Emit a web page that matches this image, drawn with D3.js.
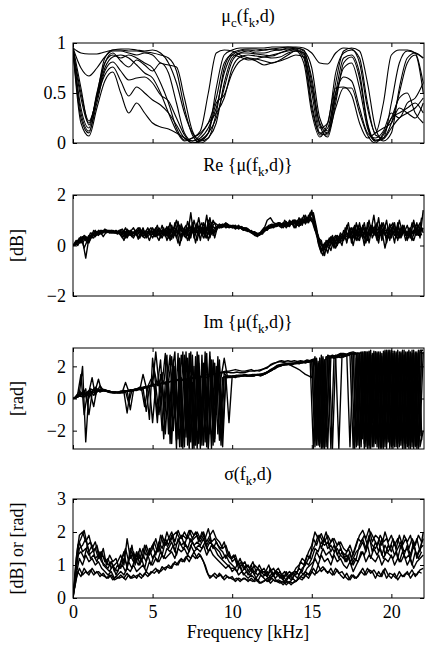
<!DOCTYPE html>
<html>
<head>
<meta charset="utf-8">
<script src="https://cdn.jsdelivr.net/npm/d3@7"></script>
<style>
  body { margin: 0; background: #fff; }
  text { font-family: "Liberation Serif", "Times New Roman", serif; fill: #000; }
</style>
</head>
<body>
<svg id="chart" width="426" height="650"></svg>
<script>
// frequency grids (kHz): coherence curves are read every 0.5 kHz, the noisy ones every 0.2 kHz
// (second noisy grid is offset by 0.1 kHz)
const freqCoarse = d3.range(45).map(i => i * 0.5);
const freqFine = d3.range(111).map(i => i * 0.2);
const freqShift = d3.range(110).map(i => 0.1 + i * 0.2);
const xTicks = [0, 5, 10, 15, 20];

// panel 1: coherence mu_c(f_k, d), one array per microphone pair
const muA = [.95,.90,.89,.89,.91,.93,.94,.94,.93,.92,.93,.90,.80,.60,.30,.10,.03,.10,.55,.88,.93,.95,.95,.95,.95,.96,.96,.96,.96,.95,.90,.80,.79,.90,.95,.94,.80,.35,.10,.40,.88,.93,.93,.90,.60];
const muB = [.95,.75,.67,.75,.86,.92,.92,.90,.88,.90,.88,.80,.78,.76,.45,.12,.02,.05,.30,.75,.90,.93,.94,.94,.93,.94,.95,.96,.95,.93,.60,.15,.20,.70,.90,.93,.85,.40,.08,.05,.40,.80,.92,.90,.85];
const muC = [.94,.50,.22,.45,.80,.90,.82,.76,.83,.78,.72,.80,.70,.40,.10,.02,.05,.15,.35,.70,.88,.92,.93,.92,.93,.94,.93,.95,.94,.90,.50,.10,.08,.50,.85,.88,.70,.20,.03,.05,.20,.50,.80,.88,.50];
const muD = [.93,.30,.12,.40,.72,.81,.72,.63,.65,.66,.60,.48,.42,.25,.08,.00,.03,.10,.25,.55,.82,.90,.92,.90,.90,.92,.93,.94,.93,.88,.40,.08,.10,.45,.75,.80,.55,.15,.02,.08,.25,.30,.35,.40,.30];
const muE = [.93,.25,.10,.45,.68,.76,.62,.47,.56,.50,.43,.38,.30,.18,.05,.02,.08,.20,.30,.45,.75,.86,.88,.87,.86,.88,.90,.92,.93,.85,.35,.10,.15,.50,.66,.62,.35,.10,.05,.12,.30,.25,.40,.45,.60];
const muF = [.92,.20,.07,.35,.62,.71,.50,.30,.40,.30,.20,.16,.14,.10,.05,.00,.02,.10,.40,.48,.70,.82,.85,.84,.82,.80,.83,.88,.92,.80,.30,.06,.20,.55,.56,.48,.20,.05,.10,.15,.20,.35,.30,.25,.40];
const muG = [.96,.55,.18,.48,.85,.93,.93,.92,.92,.91,.90,.88,.85,.72,.35,.08,.00,.05,.20,.60,.85,.90,.90,.89,.88,.87,.90,.93,.95,.92,.75,.25,.12,.60,.92,.95,.92,.60,.15,.02,.10,.55,.85,.90,.85];
const muH = [.94,.35,.15,.50,.80,.88,.85,.88,.85,.80,.75,.60,.40,.15,.03,.05,.12,.50,.90,.93,.92,.88,.85,.82,.78,.80,.82,.85,.88,.86,.55,.20,.10,.35,.55,.55,.30,.08,.00,.10,.25,.45,.50,.30,.20];
const muI = [.93,.45,.20,.46,.75,.86,.88,.85,.78,.70,.65,.50,.30,.12,.02,.05,.10,.20,.45,.80,.88,.86,.83,.84,.86,.85,.86,.90,.92,.90,.65,.18,.06,.40,.80,.86,.65,.18,.02,.04,.15,.25,.30,.35,.45];

// panel 2: Re{mu(f_k, d)} in dB (re1-4 on freqFine, re5-8 on freqShift)
const re1 = [0,.15,.25,.1,.3, .2,.5,.35,.6,.45, .65,.55,.6,.5,.55, .4,.6,.3,.55,.7, .45,.3,.6,.5,.2, .55,.35,.7,.45,.6,
  .3,.8,.4,.95,.2, .7,.4,1.3,.3,.8, .2,.9,.5,1.1,.4, .7,.85,.75,.9,.8, .7,.8,.65,.75,.6, .55,.6,.4,.35,.55,
  .7,.6,.8,.7,.85, .75,.9,.7,1.0,.85, .7,1.1,.8,1.2,.9, 1.3,.9,.2,-.2,.1, -.3,.2,0,.3,.15, .6,.1,.7,.3,.9,
  .2,.8,.4,1.0,.3, .6,.1,.9,.4,.7, .3,.9,.2,.7,.5, .8,.3,1.0,.4,.7, .6];
const re2 = [0,.05,.3,.2,-.5, .3,.35,.55,.5,.6, .55,.6,.5,.55,.45, .55,.35,.65,.4,.5, .6,.4,.7,.3,.55, .3,.6,.4,.8,.35,
  .6,.25,.9,.45,.7, .35,.95,.5,.7,.2, .8,.45,1.2,.3,.75, .65,.8,.85,.7,.75, .8,.65,.75,.7,.7, .65,.5,.55,.45,.5,
  .55,.75,.7,.8,.75, .85,.7,.95,.75,1.0, 1.0,.75,1.1,.85,1.2, 1.0,.6,.4,0,-.1, .1,-.2,.3,0,.4, .2,.8,.35,.6,.2,
  .9,.3,.7,.1,.8, .4,1.1,.2,.8,.3, .7,.1,.9,.4,.8, .2,.7,.4,.9,.3, 1.4];
const re3 = [0,.2,.1,.35,.2, .4,.3,.6,.4,.55, .6,.55,.6,.55,.5, .5,.2,.6,.45,.3, .55,.7,.35,.6,.45, .7,.45,.2,.6,.5,
  .75,.35,.6,.1,.85, .45,.7,.3,1.0,.5, .6,.3,.7,.5,1.0, .75,.7,.8,.85,.7, .75,.7,.8,.65,.65, .6,.55,.5,.4,.45,
  .65,1.0,1.1,.9,.85, .9,.8,.85,.9,.85, .85,.95,1.0,.95,1.1, 1.4,.7,.3,.2,-.4, .2,.3,-.1,.4,.25, .4,.2,.6,0,.6,
  .4,.6,.1,.7,.5, .8,.3,.6,-.1,.5, .6,.4,.8,.3,.6, .4,.5,.2,.6,.9, .5];
const re4 = [0,.1,.2,.25,.35, .1,.45,.4,.5,.5, .6,.6,.55,.5,.5, .6,.5,.4,.6,.5, .4,.55,.5,.45,.6, .5,.7,.55,.3,.65,
  .45,.6,.7,.5,.4, .6,.2,.65,.55,.9, .5,.7,.3,.8,.6, .75,.7,.75,.8,.8, .7,.75,.7,.7,.65, .6,.5,.45,.45,.5,
  .6,.65,.7,.75,.8, .8,.85,.8,.8,.95, .95,.85,.9,1.05,.95, 1.1,.8,.1,-.3,.05, 0,.35,.2,.1,.5, .3,.5,.3,.7,.4,
  .6,.3,.6,.4,.6, .5,.7,.4,.6,.6, .4,.6,.5,.35,.6, .5,.4,.6,.5,.5, .7];
const re5 = [.05,.2,.1,.3,.25, .4,.3,.55,.45,.6, .5,.6,.55,.5,.6, .65,.3,.5,.4,.6, .25,.55,.45,.7,.4, .5,.8,.3,.55,.4,
  .9,.3,.7,0,.6, .8,.2,.9,.5,1.1, .4,.85,.2,.7,.9, .8,.75,.85,.8,.75, .7,.75,.7,.6,.65, .55,.5,.4,.4,.5,
  .6,.7,.8,.75,.8, .7,1.0,.8,.95,.7, 1.0,.8,1.2,.9,1.3, 1.2,.5,-.1,-.4,.2, .1,.4,-.1,.2,.3, .5,.9,.1,.7,.35,
  .7,0,.9,.5,1.2, .3,.8,.5,1.0,.2, .8,.4,1.0,.5,.6, .3,.9,.6,.4,1.1];
const re6 = [0,.1,.35,-.1,.2, .5,.4,.45,.6,.5, .6,.5,.5,.6,.5, .3,.55,.6,.35,.45, .6,.4,.3,.55,.7, .35,.65,.45,.7,.2,
  .5,.7,.3,.8,.45, .6,.35,.75,.1,.7, .9,.3,1.0,.6,.5, .7,.8,.8,.75,.8, .75,.7,.75,.7,.6, .6,.45,.5,.45,.55,
  .7,.75,.7,.85,.9, .85,.75,.9,.85,.9, .8,1.05,.9,1.1,1.0, .9,.4,.2,-.1,-.2, .3,0,.35,.1,.2, .3,.45,.7,.25,.8,
  .5,.7,.35,.8,.4, .9,.4,.7,.3,.85, .5,.7,.3,.8,.4, .6,.2,.8,.5,.7];
const re7 = [.1,0,.25,.35,.1, .25,.6,.4,.55,.35, .55,.5,.6,.55,.55, .45,.7,.4,.5,.55, .7,.45,.55,.35,.5, .6,.4,.6,.5,.75,
  .2,.6,1.0,.4,.5, .3,.85,.5,.6,.4, .7,.6,.45,.9,.3, .8,.7,.75,.85,.75, .8,.7,.7,.7,.7, .6,.55,.45,.5,.45,
  .65,.8,.85,.8,.85, .8,.9,.75,.85,1.0, .9,.95,1.0,1.0,1.2, 1.3,.7,0,-.2,0, -.1,.25,.4,.3,0, .7,.3,.5,.8,.2,
  .4,.9,.2,.6,.7, .2,.6,.9,.1,.7, .9,.3,.6,.7,.2, .7,.5,.5,.8,.4];
const re8 = [0,.15,.2,.4,.3, .35,.5,.5,.5,.55, .6,.55,.5,.5,.55, .5,.45,.55,.5,.45, .5,.6,.4,.5,.55, .45,.55,.6,.4,.5,
  .6,.45,.5,.65,.55, .5,.6,.55,.5,.65, .55,.5,.75,.45,.6, .75,.8,.75,.8,.75, .75,.75,.7,.65,.65, .55,.5,.45,.45,.55,
  .6,.7,.75,.75,.8, .8,.85,.85,.9,.9, .9,.95,.95,1.0,1.05, 1.0,.6,.1,0,.1, .15,.2,.2,.25,.35, .4,.45,.5,.5,.45,
  .55,.5,.5,.55,.5, .5,.55,.5,.5,.55, .5,.55,.5,.55,.5, .55,.5,.6,.55,.6];

// panel 3: Im{mu(f_k, d)} in rad (im1-4 on freqFine, im5-8 on freqShift)
const im1 = [0,.1,.3,2.0,-2.7, .4,1.3,.2,.6,.5, .5,.45,.4,.4,.35, .4,.35,.5,-.7,.5, .6,.7,.65,-.8,.75, .8,2.9,.85,1.6,-2.2,
  1.0,2.6,-1.2,2.8,-3.0, 2.7,-2.9,1.4,-3.1,2.9, -2.5,2.2,-3.0,2.6,-1.8, 2.0,-2.6,1.3,1.4,-1.5, 1.4,1.35,1.4,1.45,1.45, 1.4,1.45,1.5,1.45,1.4,
  1.5,1.6,1.75,1.85,2.0, 2.05,2.1,2.15,2.1,2.1, 2.2,2.15,2.25,2.2,2.3, 2.4,-3.0,2.2,-2.8,2.3, -3.1,2.6,2.5,2.6,2.55, 2.6,2.65,2.7,-3.1,2.5,
  -2.9,2.8,-3.0,2.9,-1.5, 2.9,-3.0,2.6,-2.2,3.0, -3.0,2.7,-2.8,2.9,-3.1, 2.8,-2.6,3.0,-3.1,2.9, 2.8];
const im2 = [0,.05,.5,.2,.6, -1.0,.3,.5,1.2,.45, .5,.4,.35,.35,.4, .45,.5,.45,.55,.5, .55,.65,.7,.75,-1.3, 2.5,.8,-1.0,.9,2.8,
  -2.2,1.5,2.9,-2.5,1.3, -3.0,2.5,-2.7,2.0,-3.1, 1.3,-2.9,2.8,-2.2,2.4, -1.0,2.4,-3.0,1.3,1.3, 1.35,1.3,1.45,1.4,1.5, 1.45,1.4,1.4,1.5,1.45,
  1.55,1.65,1.8,1.9,2.05, 2.1,2.15,2.1,2.2,2.15, 2.2,2.25,2.2,2.3,2.25, 2.3,2.5,-2.5,2.4,-3.1, 2.5,2.6,2.55,2.6,2.7, 2.6,2.7,-3.0,2.8,-2.7,
  2.7,-1.8,2.9,-3.1,2.8, -2.8,2.9,-3.0,3.0,-2.5, 2.8,-1.9,3.0,-2.9,2.7, -3.0,2.9,-2.2,2.8,-3.0, -2.0];
const im3 = [0,.1,.2,.4,.3, .5,.4,.7,.45,.55, .5,.45,.4,.35,.4, .35,.4,.45,.5,.55, .5,.6,.65,.7,.8, .85,.9,.8,1.0,.9,
  1.0,1.1,1.0,1.2,1.1, 1.2,1.1,1.3,1.2,1.3, 1.3,1.4,1.3,1.4,1.5, 1.55,1.6,1.65,1.7,1.7, 1.75,1.8,1.75,1.7,1.7, 1.75,1.8,1.7,1.75,1.8,
  1.85,1.9,2.1,2.2,2.25, 2.3,2.25,2.2,2.1,2.0, 1.9,1.8,1.65,1.5,1.4, 1.3,2.6,-2.9,2.7,-3.0, 2.7,2.6,2.65,2.7,2.8, 2.8,2.75,2.85,2.9,2.8,
  -3.1,2.9,-2.6,2.95,-3.0, 2.9,-3.1,2.8,-3.0,2.9, -2.8,2.95,-3.1,2.8,-2.4, 2.9,-3.1,2.7,-2.9,3.0, 3.0];
const im4 = [0,.05,.15,.1,.35, .3,.45,.55,.5,.6, .55,.45,.4,.35,.35, .45,.4,-.9,.5,.55, .6,.55,1.5,.7,.75, -1.5,.85,.9,-2.0,1.0,
  1.2,-2.8,2.0,-1.5,2.7, 1.0,-2.2,2.9,-2.9,1.6, -3.1,1.2,-1.3,2.9,-2.9, 1.4,2.0,-2.0,1.35,1.4, 1.35,1.4,1.35,1.4,1.45, 1.4,1.4,1.45,1.45,1.5,
  1.5,1.6,1.7,1.85,1.95, 2.0,2.1,2.1,2.15,2.2, 2.15,2.2,2.3,2.25,2.3, 2.35,-2.0,2.3,-3.1,2.4, 2.5,-3.1,2.6,2.55,2.65, 2.6,2.7,2.75,2.8,-3.0,
  2.8,-2.5,2.9,-2.9,2.7, -2.0,2.8,-3.1,2.9,-2.7, 3.0,-3.0,2.5,-2.6,3.0, -2.8,2.6,-3.1,2.9,-2.3, 2.9];
const im5 = [0,.2,.3,.1,.4, .2,.6,.4,.8,.5, .45,.4,.4,.35,.4, .4,.45,.5,.45,.55, .6,.5,.7,.65,.8, .75,-1.5,1.5,.9,2.7,
  -2.8,1.8,-3.1,2.5,-2.4, 1.2,-3.1,2.7,-2.6,2.2, -2.9,2.9,-3.1,1.8,-2.5, 2.6,-1.2,1.6,1.3,1.4, 1.35,1.4,1.4,1.45,1.4, 1.45,1.5,1.45,1.5,1.45,
  1.55,1.7,1.8,1.95,2.05, 2.1,2.1,2.2,2.15,2.2, 2.25,2.2,2.3,2.3,2.35, 2.4,-2.9,2.5,-3.1,2.6, 2.55,2.6,2.65,2.7,2.75, 2.7,2.8,2.8,-3.1,2.85,
  -3.0,2.9,-2.9,3.0,-2.7, 2.8,-3.1,2.95,-2.8,2.9, -3.1,2.9,-2.7,3.0,-3.1, 2.9,-3.0,2.8,-3.1,3.0];
const im6 = [.05,.3,1.5,-1.0,.3, .5,.2,.55,.4,.5, .5,.45,.4,.4,.35, .4,1.0,.45,.5,.6, .55,.65,-.5,.7,.8, 1.8,.8,2.4,-.8,1.0,
  2.7,-2.0,1.1,-3.0,2.9, -2.4,2.8,-3.1,2.6,-2.8, 2.7,-2.7,1.4,-3.1,2.2, -2.2,1.3,2.5,1.35,1.3, 1.4,1.45,1.4,1.4,1.45, 1.4,1.45,1.5,1.5,1.55,
  1.6,1.65,1.75,1.9,2.0, 2.05,2.15,2.1,2.2,2.2, 2.2,2.3,2.25,2.35,2.3, 2.3,2.5,-3.0,2.6,-2.4, 2.6,2.7,2.6,2.7,2.75, 2.65,2.75,2.8,2.8,-2.9,
  2.9,-3.1,2.8,-2.4,2.95, -3.0,2.7,-2.6,3.0,-3.1, 2.8,-2.5,2.9,-3.1,2.85, -2.9,3.0,-3.0,2.8,-2.6];
const im7 = [0,.1,.25,.3,.2, .6,.5,.45,.5,.5, .45,.45,.4,.4,.35, .4,.45,.5,.5,.55, .6,.65,.7,.75,.8, .85,.9,.95,1.0,1.0,
  1.05,1.1,1.15,1.1,1.2, 1.2,1.25,1.3,1.3,1.35, 1.4,1.45,1.5,1.5,1.55, 1.55,1.6,1.6,1.65,1.6, 1.6,1.65,1.6,1.6,1.65, 1.7,1.7,1.75,1.7,1.8,
  1.9,2.0,2.1,2.2,2.3, 2.35,2.3,2.35,2.3,2.35, 2.3,2.35,2.3,2.4,2.35, 2.45,-2.6,2.5,-3.0,2.55, 2.6,-3.1,2.7,2.65,2.7, 2.75,2.7,2.8,2.75,2.8,
  2.85,-2.8,2.9,-3.1,2.8, -2.5,2.9,-3.1,2.8,-2.9, 2.95,-3.0,2.7,-2.8,2.9, -3.1,2.8,-2.9,3.0,-2.2];
const im8 = [0,.1,.2,.5,-.2, .3,-.5,.6,.5,.55, .5,.45,.35,.4,.35, .35,.45,-.3,.5,.5, .55,.6,.65,.75,1.2, .8,-.9,.9,-2.5,1.1,
  -1.5,2.4,-2.6,1.9,-3.1, 2.9,-2.0,1.0,-2.9,2.7, -2.0,1.6,-3.1,2.4,-2.7, 1.8,-2.9,1.35,1.4,1.35, 1.4,1.35,1.45,1.4,1.4, 1.45,1.4,1.45,1.5,1.5,
  1.6,1.7,1.8,1.85,2.0, 2.05,2.1,2.15,2.15,2.2, 2.2,2.25,2.25,2.3,2.3, -3.1,2.4,-2.7,2.5,-3.0, 2.5,2.55,2.6,-3.1,2.7, 2.7,2.75,2.8,2.85,2.8,
  -2.6,2.9,-3.1,2.7,-3.0, 2.9,-2.4,2.8,-3.1,3.0, -2.9,2.8,-3.0,2.9,-2.8, 3.0,-2.7,2.9,-3.1,2.8];

// panel 4: sigma(f_k, d), dB or rad (sg1-5 on freqFine, sg6-8 on freqShift)
const sg1 = [0,1.2,1.9,2.0,1.7, 1.9,1.5,1.7,1.3,1.4, 1.1,1.2,.9,1.0,1.1, 1.3,1.0,1.8,1.2,1.4, 1.1,1.5,1.2,1.6,1.3, 1.5,1.8,1.4,1.9,1.6,
  1.8,2.0,1.7,2.05,1.8, 2.0,1.8,2.05,1.9,2.0, 1.8,2.0,1.7,1.9,2.05, 1.8,1.7,1.5,1.6,1.3, 1.2,1.3,1.0,1.1,.9, 1.0,.8,1.0,.9,.8,
  .9,.7,.8,.9,.7, .8,.6,.7,.8,.7, .9,1.0,1.2,1.1,1.4, 1.6,2.0,1.8,1.95,1.7, 1.9,1.7,1.8,1.6,1.7, 1.5,1.4,1.6,1.3,1.6,
  1.9,2.05,1.8,2.1,1.7, 1.9,1.8,1.6,2.0,1.7, 1.9,1.6,1.8,1.5,1.9, 1.7,1.9,1.5,1.8,1.4, 2.0];
const sg2 = [0,.9,1.5,1.6,1.8, 1.4,1.6,1.2,1.3,1.1, 1.0,.9,1.1,.8,1.0, .9,1.2,1.0,1.3,1.1, 1.4,1.0,1.3,1.1,1.5, 1.2,1.4,1.6,1.3,1.7,
  1.5,1.7,1.4,1.8,1.6, 1.7,1.5,1.8,1.6,1.7, 1.6,1.8,1.5,1.7,1.6, 1.5,1.4,1.2,1.3,1.1, 1.0,.9,1.1,.8,.9, .7,.9,.8,.7,.8,
  .7,.8,.6,.7,.8, .6,.7,.5,.7,.6, .8,.7,.9,1.0,1.2, 1.4,1.6,1.9,1.5,1.8, 1.5,1.6,1.4,1.5,1.3, 1.2,1.3,1.1,1.2,1.4,
  1.5,1.7,1.4,1.8,1.6, 1.5,1.7,1.3,1.6,1.4, 1.6,1.3,1.5,1.7,1.4, 1.5,1.2,1.6,1.3,1.5, 1.6];
const sg3 = [0,.7,1.2,1.0,1.3, 1.1,1.2,1.0,1.1,.9, .8,.7,.8,.6,.7, .8,.7,.9,.8,1.0, .8,.9,1.0,.8,1.1, 1.0,1.2,1.1,1.3,1.2,
  1.3,1.4,1.2,1.5,1.4, 1.5,1.3,1.6,1.4,1.5, 1.4,1.6,1.3,1.5,1.3, 1.2,1.1,1.0,.9,1.0, .8,.9,.7,.8,.7, .6,.7,.6,.5,.7,
  .6,.5,.6,.7,.5, .5,.4,.5,.45,.6, .5,.6,.7,.8,.7, .9,1.2,1.0,1.3,1.1, 1.2,1.0,1.3,1.1,1.2, 1.0,.9,1.1,.8,1.0,
  1.2,1.4,1.1,1.3,1.2, 1.1,1.3,1.0,1.2,1.1, 1.3,1.0,1.2,1.1,1.3, 1.0,1.2,.9,1.1,1.2, 1.3];
const sg4 = [0,.6,.9,.7,.8, .7,.9,.75,.8,.7, .65,.6,.7,.55,.6, .7,.6,.75,.6,.7, .6,.75,.65,.8,.7, .8,.9,.75,.95,.85,
  1.0,.9,1.1,1.0,1.2, 1.1,1.3,1.2,1.4,1.2, 1.3,1.1,.8,.6,.7, .6,.75,.6,.7,.6, .65,.5,.6,.55,.6, .5,.6,.5,.55,.45,
  .5,.6,.45,.55,.5, .45,.5,.4,.5,.45, .5,.6,.55,.7,.6, .8,.7,1.0,.8,.9, .75,.9,.7,.85,.7, .6,.75,.55,.7,.6,
  .75,.9,.7,.85,.8, .6,.8,.65,.9,.7, .6,.75,.55,.7,.65, .8,.6,.75,.7,.85, .9];
const sg5 = [0,1.0,1.7,1.4,1.5, 1.3,1.4,1.5,1.2,1.3, 1.2,1.0,1.1,.9,.8, 1.1,1.4,.9,1.5,1.2, 1.3,1.2,1.5,1.3,1.4, 1.6,1.3,1.7,1.5,1.8,
  1.6,1.9,1.6,1.7,1.9, 1.6,1.9,1.7,1.8,1.9, 1.7,1.9,1.6,1.8,1.5, 1.7,1.5,1.4,1.2,1.4, 1.1,1.2,.9,1.0,1.1, .8,1.0,.7,.9,.75,
  .8,.65,.9,.7,.8, .7,.55,.8,.6,.75, .7,.9,.8,1.1,1.0, 1.2,1.5,1.4,1.7,1.6, 1.7,1.4,1.6,1.3,1.5, 1.3,1.1,1.4,1.0,1.2,
  1.6,1.8,1.5,1.9,1.4, 1.7,1.4,1.8,1.3,1.6, 1.4,1.7,1.2,1.6,1.3, 1.6,1.3,1.7,1.2,1.5, 1.8];
const sg6 = [.6,1.6,1.8,2.05,1.6, 1.7,1.4,1.6,1.2,1.5, 1.0,1.3,1.1,1.2,.9, 1.2,1.5,1.1,1.6,1.0, 1.4,1.1,1.6,1.3,1.5, 1.7,1.4,1.9,1.6,2.0,
  1.7,1.9,2.0,1.8,1.9, 1.8,2.05,1.8,2.0,1.7, 2.0,1.8,2.1,1.7,1.8, 1.6,1.5,1.7,1.3,1.2, 1.3,1.0,1.2,.9,1.0, .9,1.1,.8,1.0,.8,
  .8,1.0,.7,.8,.9, .7,.8,.6,.75,.8, .8,1.1,1.0,1.3,1.2, 1.8,1.6,1.9,1.7,2.0, 1.6,1.8,1.5,1.7,1.4, 1.3,1.5,1.2,1.5,1.8,
  1.7,1.9,1.6,2.0,1.8, 1.6,1.9,1.7,1.8,1.5, 1.8,1.5,1.9,1.6,1.8, 1.5,1.8,1.6,1.9,1.7];
const sg7 = [.4,1.3,1.4,1.2,1.6, 1.2,1.3,1.1,1.4,1.0, .9,.8,1.0,.7,.9, 1.0,.8,1.1,.9,1.2, 1.0,1.2,.9,1.3,1.0, 1.3,1.1,1.4,1.2,1.5,
  1.4,1.6,1.3,1.7,1.5, 1.6,1.4,1.7,1.5,1.6, 1.5,1.7,1.4,1.6,1.5, 1.3,1.2,1.1,1.0,.9, .9,.8,1.0,.7,.8, .7,.8,.6,.75,.65,
  .7,.6,.75,.6,.7, .6,.5,.65,.55,.7, .6,.8,.7,.9,1.0, 1.1,1.4,1.2,1.5,1.3, 1.4,1.2,1.5,1.2,1.4, 1.1,1.3,1.0,1.2,1.1,
  1.4,1.3,1.6,1.2,1.5, 1.3,1.5,1.2,1.4,1.3, 1.2,1.4,1.1,1.4,1.2, 1.3,1.0,1.4,1.2,1.4];
const sg8 = [.3,.8,.65,.9,.75, .85,.7,.8,.65,.75, .6,.7,.55,.65,.6, .65,.55,.7,.6,.65, .7,.6,.75,.65,.8, .75,.85,.8,.9,.95,
  .9,1.05,1.0,1.15,1.1, 1.25,1.1,1.3,1.2,1.35, 1.2,1.0,.7,.65,.75, .65,.7,.55,.65,.6, .55,.6,.5,.6,.55, .55,.5,.6,.45,.5,
  .55,.5,.6,.5,.55, .5,.45,.5,.4,.5, .55,.65,.6,.75,.7, .9,.75,.85,.95,.8, .8,.7,.9,.75,.8, .65,.55,.7,.6,.65,
  .8,.7,.9,.75,.85, .7,.65,.85,.6,.75, .7,.6,.8,.65,.75, .7,.85,.65,.8,.75];

const svg = d3.select('#chart');
const x = d3.scaleLinear().domain([0, 22.05]).range([73, 424]);
const minus = s => s.replace('-', '\u2212');

// title pieces: [text, isSubscript]
function richText(sel, parts, size) {
	parts.forEach(([str, sub], i) => {
		const prevSub = i > 0 && parts[i - 1][1];
		sel.append('tspan')
			.attr('dy', sub ? 5 : (prevSub ? -5 : 0))
			.attr('font-size', sub ? size * 0.72 : size)
			.text(str);
	});
}

function drawPanel(cfg) {
	const {id, top, bottom, domain, yTicks, yFormat, series, curve, width, title, titleY, ylabel, showX} = cfg;
	const y = d3.scaleLinear().domain(domain).range([bottom, top]);
	const g = svg.append('g').attr('class', 'panel-' + id);
	const [x0, x1] = x.range();

	g.append('clipPath').attr('id', 'clip-' + id)
		.append('rect')
		.attr('x', x0).attr('y', top)
		.attr('width', x1 - x0)
		.attr('height', bottom - top);

	g.append('g').attr('clip-path', `url(#clip-${id})`)
		.selectAll('path')
		.data(series)
		.join('path')
		.attr('d', ([freq, values]) => d3.line()
			.x((d, i) => x(freq[i]))
			.y(d => y(d))
			.curve(curve)(values))
		.attr('fill', 'none')
		.attr('stroke', '#000')
		.attr('stroke-width', width)
		.attr('stroke-linejoin', 'round');

	// ticks pointing inwards on all four sides
	const fontSize = 18;
	const axes = [
		[d3.axisBottom(x).tickValues(xTicks).tickFormat(showX ? d3.format('d') : ''), `translate(0,${bottom})`],
		[d3.axisTop(x).tickValues(xTicks).tickFormat(''), `translate(0,${top})`],
		[d3.axisLeft(y).tickValues(yTicks).tickFormat(yFormat), `translate(${x0},0)`],
		[d3.axisRight(y).tickValues(yTicks).tickFormat(''), `translate(${x1},0)`]
	];
	axes.forEach(([axis, tr]) => {
		const a = g.append('g')
			.attr('transform', tr)
			.call(axis.tickSizeInner(-4).tickSizeOuter(0).tickPadding(7));
		a.select('.domain').remove();
		a.selectAll('line').attr('stroke', '#000');
		a.selectAll('text')
			.attr('font-family', '"Liberation Serif", serif')
			.attr('font-size', fontSize)
			.attr('fill', '#000');
	});

	g.append('rect')
		.attr('x', x0).attr('y', top)
		.attr('width', x1 - x0)
		.attr('height', bottom - top)
		.attr('fill', 'none')
		.attr('stroke', '#000')
		.attr('stroke-width', 1);

	richText(g.append('text')
		.attr('x', 248).attr('y', titleY)
		.attr('text-anchor', 'middle'), title, fontSize);

	if (ylabel) {
		g.append('text')
			.attr('transform', `translate(23,${(top + bottom) / 2}) rotate(-90)`)
			.attr('text-anchor', 'middle')
			.attr('font-size', fontSize)
			.text(ylabel);
	}
}

drawPanel({
	id: 'coh', top: 43, bottom: 143, domain: [0, 1], yTicks: [0, 0.5, 1], yFormat: d3.format('~g'),
	series: [muA, muB, muC, muD, muE, muF, muG, muH, muI].map(v => [freqCoarse, v]),
	curve: d3.curveMonotoneX, width: 1.1,
	title: [['μ', false], ['c', true], ['(f', false], ['k', true], [',d)', false]], titleY: 22
});
drawPanel({
	id: 're', top: 195, bottom: 296, domain: [-2, 2], yTicks: [-2, 0, 2], yFormat: d => minus(d3.format('d')(d)),
	series: [...[re1, re2, re3, re4].map(v => [freqFine, v]), ...[re5, re6, re7, re8].map(v => [freqShift, v])],
	curve: d3.curveLinear, width: 1.4,
	title: [['Re {μ(f', false], ['k', true], [',d)}', false]], titleY: 171, ylabel: '[dB]'
});
drawPanel({
	id: 'im', top: 348, bottom: 449, domain: [-Math.PI, Math.PI], yTicks: [-2, 0, 2], yFormat: d => minus(d3.format('d')(d)),
	series: [...[im1, im2, im3, im4].map(v => [freqFine, v]), ...[im5, im6, im7, im8].map(v => [freqShift, v])],
	curve: d3.curveLinear, width: 1.4,
	title: [['Im {μ(f', false], ['k', true], [',d)}', false]], titleY: 328, ylabel: '[rad]'
});
drawPanel({
	id: 'sig', top: 499, bottom: 598, domain: [0, 3], yTicks: [0, 1, 2, 3], yFormat: d3.format('d'),
	series: [...[sg1, sg2, sg3, sg4, sg5].map(v => [freqFine, v]), ...[sg6, sg7, sg8].map(v => [freqShift, v])],
	curve: d3.curveLinear, width: 1.4,
	title: [['σ(f', false], ['k', true], [',d)', false]], titleY: 480, ylabel: '[dB] or [rad]', showX: true
});

svg.append('text')
	.attr('x', 248).attr('y', 638)
	.attr('text-anchor', 'middle')
	.attr('font-size', 18)
	.text('Frequency [kHz]');
</script>
</body>
</html>
